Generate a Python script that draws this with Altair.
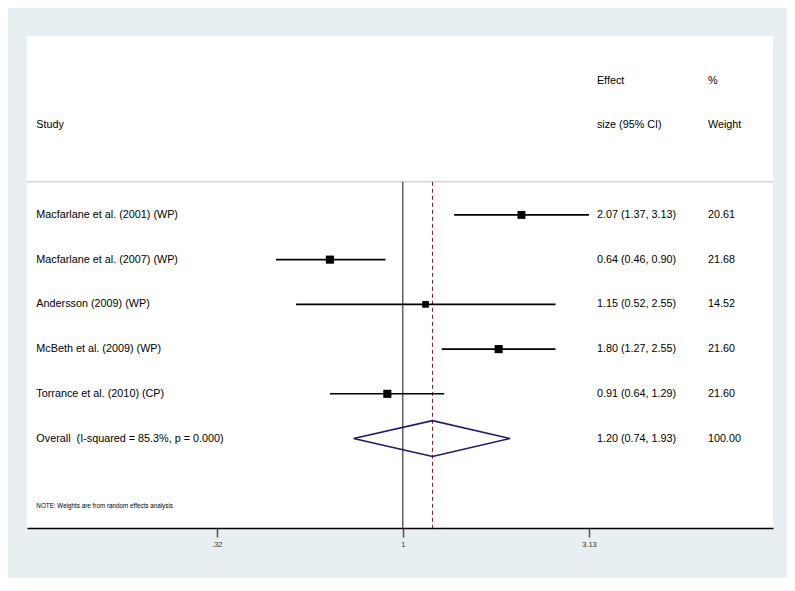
import altair as alt
import pandas as pd

# ---- data ----
studies = [
    "Macfarlane et al. (2001) (WP)",
    "Macfarlane et al. (2007) (WP)",
    "Andersson (2009) (WP)",
    "McBeth et al. (2009) (WP)",
    "Torrance et al. (2010) (CP)",
]
effect = [2.07, 0.64, 1.15, 1.80, 0.91]
lower = [1.37, 0.46, 0.52, 1.27, 0.64]
upper = [3.13, 0.90, 2.55, 2.55, 1.29]
weight = [20.61, 21.68, 14.52, 21.60, 21.60]

overall_label = "Overall\u00a0 (I-squared = 85.3%, p = 0.000)"
overall_effect = 1.20
overall_lower = 0.74
overall_upper = 1.93
overall_weight = 100.00

tick_values = [0.32, 1, 3.13]
note = "NOTE: Weights are from random effects analysis"

# ---- layout constants (data units) ----
X_DOMAIN = [0.1, 9.67]
Y_DOMAIN = [-3, 8]
X_STUDY = 0.1059
X_EFFECT = 3.287
X_WEIGHT = 6.49
Y_SEP = 0.26
FONT = "Liberation Sans"

n = len(studies)
rows = list(range(1, n + 1))
overall_row = n + 1

df = pd.DataFrame({
    "row": rows,
    "study": studies,
    "effect": effect,
    "lower": lower,
    "upper": upper,
    "weight": weight,
})
df["ci_text"] = [f"{e:.2f} ({l:.2f}, {u:.2f})" for e, l, u in zip(effect, lower, upper)]
df["w_text"] = [f"{w:.2f}" for w in weight]

labels = pd.DataFrame({
    "row": rows + [overall_row],
    "study": studies + [overall_label],
    "ci_text": list(df["ci_text"]) + [f"{overall_effect:.2f} ({overall_lower:.2f}, {overall_upper:.2f})"],
    "w_text": list(df["w_text"]) + [f"{overall_weight:.2f}"],
})

headers = pd.DataFrame({
    "x": [X_STUDY, X_EFFECT, X_EFFECT, X_WEIGHT, X_WEIGHT],
    "row": [-1, -2, -1, -2, -1],
    "text": ["Study", "Effect", "size (95% CI)", "%", "Weight"],
})

diamond = pd.DataFrame({
    "x": [overall_lower, overall_effect, overall_upper, overall_effect, overall_lower],
    "y": [overall_row, overall_row - 0.4, overall_row, overall_row + 0.4, overall_row],
    "o": [0, 1, 2, 3, 4],
})

xscale = alt.Scale(type="log", domain=X_DOMAIN, nice=False)
yscale = alt.Scale(domain=Y_DOMAIN, reverse=True, nice=False, zero=False)

xaxis = alt.Axis(
    values=tick_values,
    title=None,
    grid=False,
    labelExpr="datum.value < 1 ? substring('' + datum.value, 1) : '' + datum.value",
    labelFont=FONT,
    labelFontSize=7.5,
    labelColor="#333333",
    labelPadding=3,
    tickSize=9,
    tickWidth=1.5,
    tickColor="#555555",
    domainColor="#000000",
    domainWidth=1.5,
)

base = alt.Chart(df)

# separator line
sep = alt.Chart(pd.DataFrame({"x": [X_DOMAIN[0]], "x2": [X_DOMAIN[1]], "y": [Y_SEP]})).mark_rule(
    color="#c4c4c4", strokeWidth=1
).encode(
    x=alt.X("x:Q", scale=xscale, axis=xaxis),
    x2="x2:Q",
    y=alt.Y("y:Q", scale=yscale, axis=None),
)

# null line at 1
null_line = alt.Chart(pd.DataFrame({"x": [1.0], "y": [Y_SEP], "y2": [Y_DOMAIN[1]]})).mark_rule(
    color="#5f5f5f", strokeWidth=1.5
).encode(
    x=alt.X("x:Q", scale=xscale),
    y=alt.Y("y:Q", scale=yscale),
    y2="y2:Q",
)

# overall effect dashed line
ov_line = alt.Chart(pd.DataFrame({"x": [overall_effect], "y": [Y_SEP], "y2": [Y_DOMAIN[1]]})).mark_rule(
    color="#8c1c24", strokeWidth=1, strokeDash=[4, 3]
).encode(
    x=alt.X("x:Q", scale=xscale),
    y=alt.Y("y:Q", scale=yscale),
    y2="y2:Q",
)

ci = base.mark_rule(color="black", strokeWidth=1.6).encode(
    x=alt.X("lower:Q", scale=xscale),
    x2="upper:Q",
    y=alt.Y("row:Q", scale=yscale),
)

squares = base.mark_square(color="black", opacity=1, filled=True).encode(
    x=alt.X("effect:Q", scale=xscale),
    y=alt.Y("row:Q", scale=yscale),
    size=alt.Size("weight:Q", scale=alt.Scale(domain=[0, 21.68], range=[0, 66]), legend=None),
)

dia = alt.Chart(diamond).mark_line(color="#1c1c6c", strokeWidth=1.6).encode(
    x=alt.X("x:Q", scale=xscale),
    y=alt.Y("y:Q", scale=yscale),
    order="o:Q",
)

txt_kw = dict(font=FONT, fontSize=10.8, align="left", baseline="middle", color="#000000")

study_txt = alt.Chart(labels).mark_text(**txt_kw).encode(
    x=alt.datum(X_STUDY, scale=xscale),
    y=alt.Y("row:Q", scale=yscale),
    text="study:N",
)
ci_txt = alt.Chart(labels).mark_text(**txt_kw).encode(
    x=alt.datum(X_EFFECT, scale=xscale),
    y=alt.Y("row:Q", scale=yscale),
    text="ci_text:N",
)
w_txt = alt.Chart(labels).mark_text(**txt_kw).encode(
    x=alt.datum(X_WEIGHT, scale=xscale),
    y=alt.Y("row:Q", scale=yscale),
    text="w_text:N",
)
head_txt = alt.Chart(headers).mark_text(**txt_kw).encode(
    x=alt.X("x:Q", scale=xscale),
    y=alt.Y("row:Q", scale=yscale),
    text="text:N",
)
note_txt = alt.Chart(pd.DataFrame({"t": [note], "y": [7.5]})).mark_text(
    font=FONT, fontSize=6.3, align="left", baseline="middle", color="#000000"
).encode(
    x=alt.datum(X_STUDY, scale=xscale),
    y=alt.Y("y:Q", scale=yscale),
    text="t:N",
)

chart = alt.layer(
    sep, null_line, ov_line, ci, squares, dia, study_txt, ci_txt, w_txt, head_txt, note_txt
).properties(
    width=746,
    height=492,
    padding={"left": 19, "top": 28, "right": 14, "bottom": 50},
    autosize=alt.AutoSizeParams(type="none"),
    background="#e8eff2",
).configure_view(
    fill="white",
    strokeWidth=0,
)

chart.save("out.html", embed_options={"renderer": "svg", "actions": False})
